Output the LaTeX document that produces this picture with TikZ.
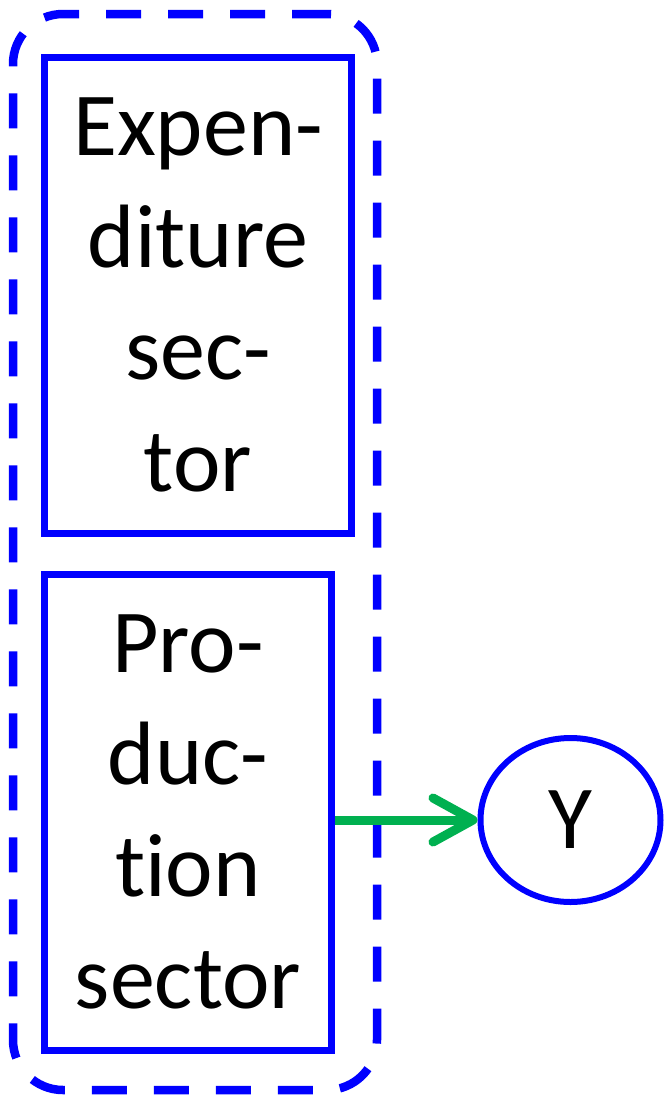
\documentclass[tikz,border=0pt]{standalone}
\usepackage{fontspec}
\setmainfont{Carlito}[Ligatures={NoCommon,NoRequired,NoContextual}]
\usetikzlibrary{arrows.meta,shapes.geometric}
\definecolor{pptblue}{HTML}{0000FF}
\definecolor{pptgreen}{HTML}{00B050}
\tikzset{
  sectorbox/.style={draw=pptblue, line width=7pt, rectangle, align=center, inner sep=0pt,
    font=\fontsize{90}{112}\selectfont},
  groupbox/.style={draw=pptblue, line width=8.5pt, rectangle, rounded corners=50pt,
    dash pattern=on 35pt off 27pt, inner sep=0pt},
  varnode/.style={draw=pptblue, line width=6pt, ellipse, inner sep=0pt,
    font=\fontsize{90}{112}\selectfont},
  flow/.style={draw=pptgreen, line width=9pt,
    -{Straight Barb[length=40pt,width=44pt,round]}}
}
\begin{document}
\begin{tikzpicture}[x=1pt,y=-1pt]
\useasboundingbox (0,0) rectangle (664,1096);
\node[groupbox, minimum width=364pt, minimum height=1076pt] (grp) at (195,552) {};
\node[sectorbox, minimum width=307pt, minimum height=476pt] (exp) at (198,295)
  {Expen-\\diture\\sec-\\tor};
\node[sectorbox, minimum width=287pt, minimum height=476pt] (prod) at (188,812)
  {Pro-\\duc-\\tion\\sector};
\node[varnode, minimum width=180pt, minimum height=164pt] (Y) at (570.5,820) {Y};
\draw[flow] (prod.east |- Y.west) -- (Y.west);
\end{tikzpicture}
\end{document}
